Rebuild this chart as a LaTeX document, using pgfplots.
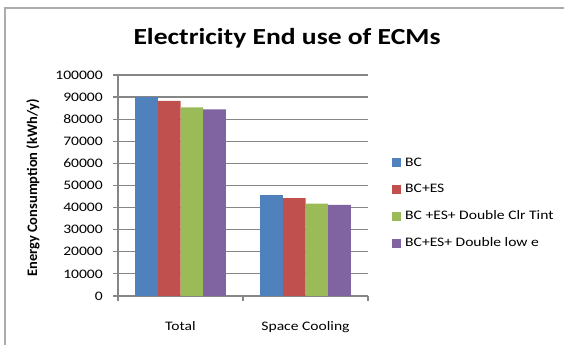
\documentclass[border=0pt]{standalone}
\usepackage{pgfplots}
\pgfplotsset{compat=1.18}
\usepackage{fontspec}
\setmainfont{Carlito}[FakeStretch=1.2]
\newfontfamily\labelfont{Carlito}

\definecolor{bcblue}{HTML}{4F81BD}
\definecolor{bcred}{HTML}{C0504D}
\definecolor{bcgreen}{HTML}{9BBB59}
\definecolor{bcpurple}{HTML}{8064A2}
\definecolor{axisgray}{HTML}{868686}

\begin{document}
\begin{tikzpicture}
\useasboundingbox (0,0) rectangle (564bp,345bp);
% chart frame
\draw[color=gray!65, line width=1.3bp] (5bp,0) -- (5bp,337bp) -- (564bp,337bp);
% chart title
\node[anchor=base, font=\fontsize{23bp}{27bp}\selectfont\bfseries]
  at (287bp,300bp) {Electricity End use of ECMs};
\begin{axis}[
  at={(118bp,49bp)}, anchor=south west,
  scale only axis, width=250bp, height=221bp,
  ybar=0pt, bar width=22.7bp,
  xmin=-0.5, xmax=1.5, ymin=0, ymax=100000,
  xtick={0,1}, xticklabels={Total, Space Cooling},
  minor xtick={-0.5,0.5,1.5},
  ytick={0,10000,...,100000},
  scaled y ticks=false,
  axis x line=bottom, axis y line=left,
  axis line style={-, color=axisgray, line width=1.2bp},
  tick align=outside,
  major tick length=5bp, minor tick length=5bp,
  xtick style={draw=none},
  minor x tick style={draw=axisgray, line width=1.2bp},
  ytick style={draw=axisgray, line width=1.2bp},
  ymajorgrids,
  major grid style={draw=axisgray, line width=1.2bp},
  /pgf/number format/assume math mode=true,
  yticklabel style={/pgf/number format/fixed, /pgf/number format/1000 sep={},
    font=\fontsize{13bp}{15bp}\selectfont, anchor=east, inner sep=0pt, xshift=-10bp},
  xticklabel style={font=\fontsize{13bp}{15bp}\selectfont, anchor=base, inner sep=0pt, yshift=-29bp},
  ylabel={Energy Consumption (kWh/y)},
  ylabel style={at={(axis description cs:-0.34,0.489)}, anchor=center,
    font=\labelfont\fontsize{14.5bp}{17bp}\selectfont\bfseries},
  legend style={at={(1.096,0.42)}, anchor=west, draw=none, fill=none,
    font=\fontsize{13bp}{15bp}\selectfont, inner sep=0pt, row sep=16.5bp,
    nodes={inner sep=0pt},
    /tikz/every odd column/.append style={column sep=4bp}},
  legend cell align=left,
  legend image code/.code={\fill[#1] (0bp,-4.5bp) rectangle (9bp,4.5bp);},
]
\addplot[fill=bcblue, draw=none] coordinates {(0,90000) (1,45700)};
\addplot[fill=bcred, draw=none] coordinates {(0,88300) (1,44300)};
\addplot[fill=bcgreen, draw=none] coordinates {(0,85400) (1,41800)};
\addplot[fill=bcpurple, draw=none] coordinates {(0,84500) (1,41200)};
\legend{BC, BC+ES, BC +ES+ Double Clr Tint, BC+ES+ Double low e}
\end{axis}
\end{tikzpicture}
\end{document}
